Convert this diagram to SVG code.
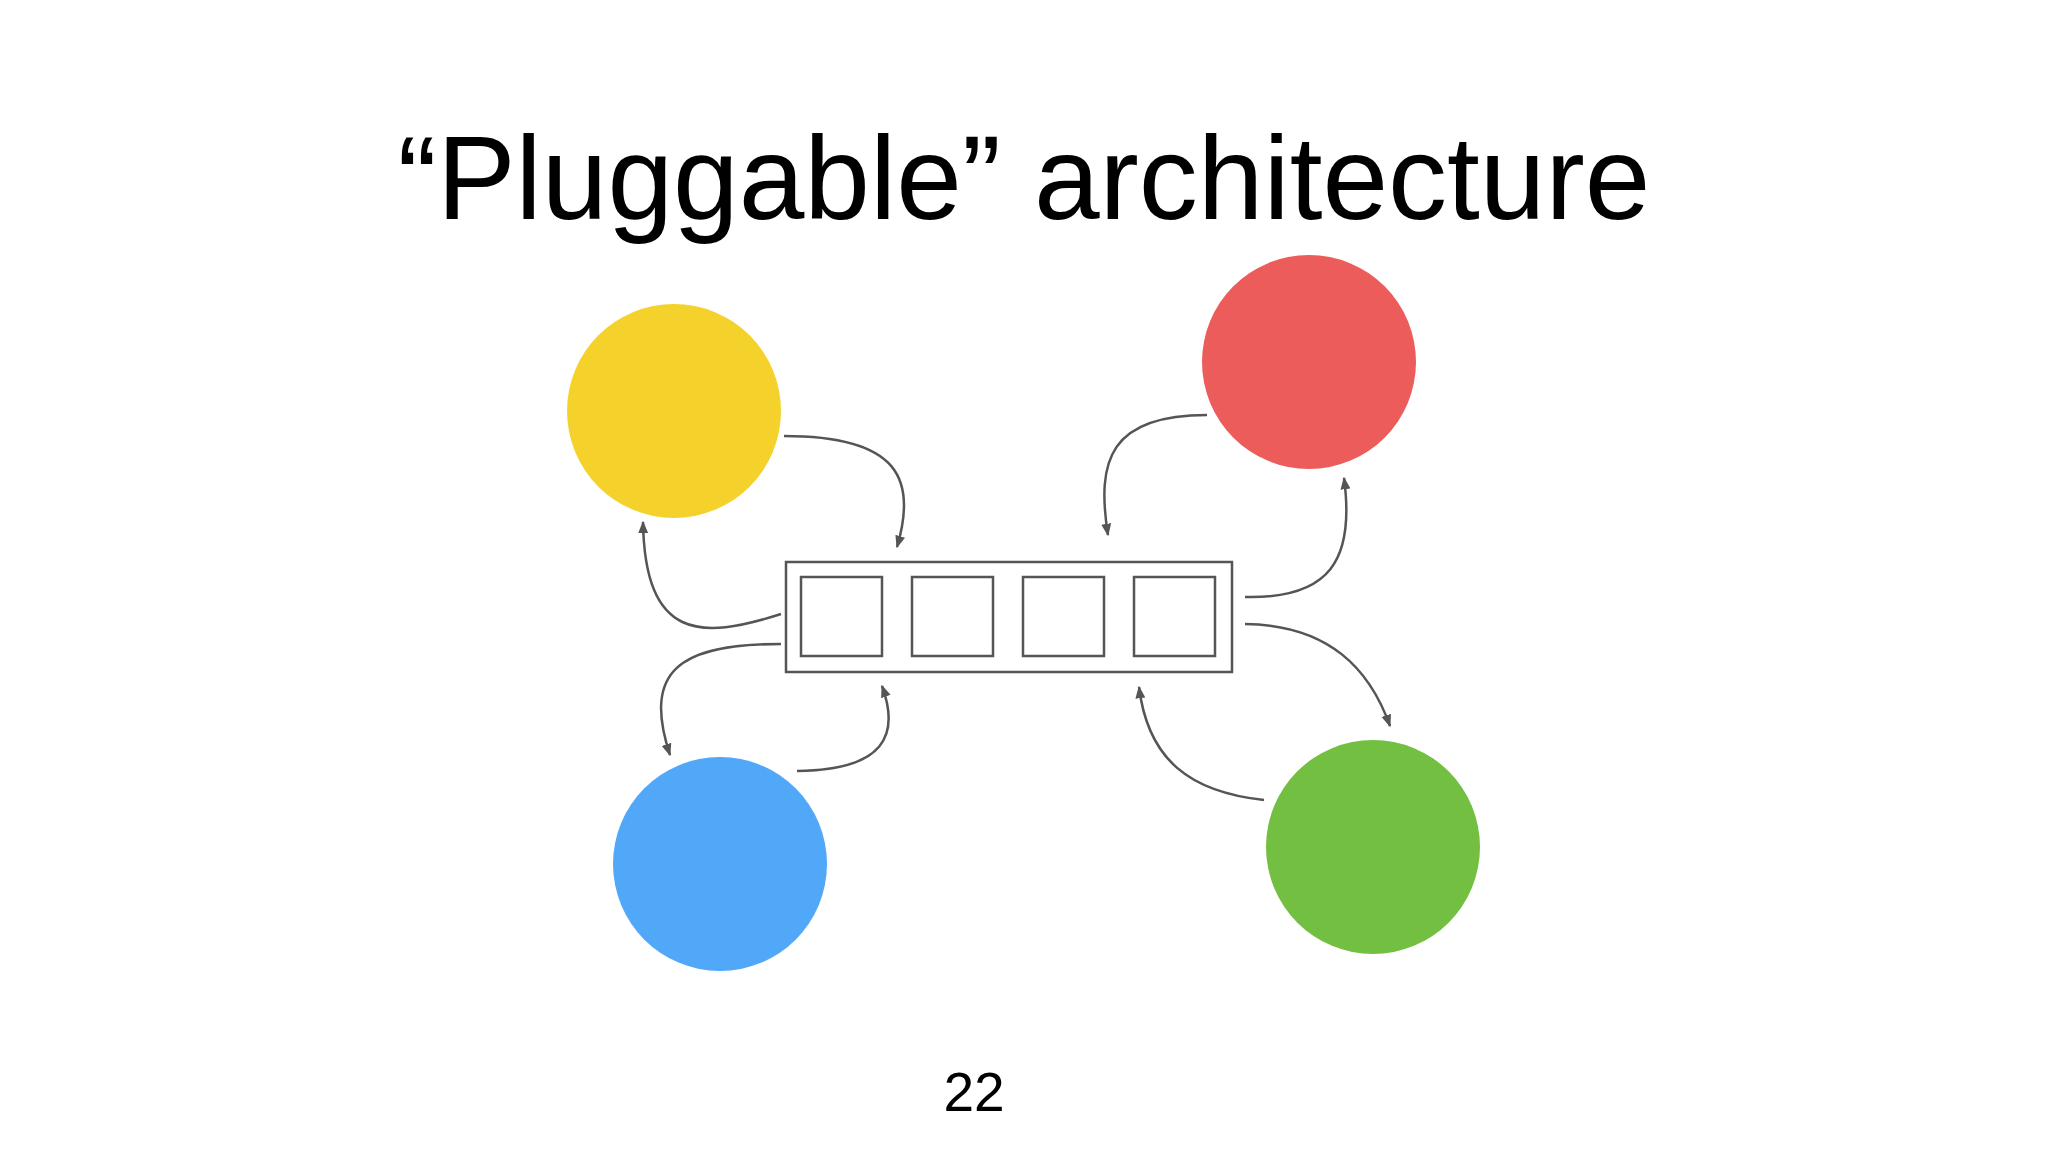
<svg xmlns="http://www.w3.org/2000/svg" width="2048" height="1152" viewBox="0 0 2048 1152">
<defs>
<marker id="ah" viewBox="0 0 10 10" refX="9" refY="5" markerWidth="5" markerHeight="5" orient="auto"><path d="M0,1 L10,5 L0,9 z" fill="#555"/></marker>
<style>.c{fill:none;stroke:#555;stroke-width:2.5;marker-end:url(#ah)}.b{fill:#fff;stroke:#555;stroke-width:2.5}text{font-family:"Liberation Sans",Arial,sans-serif;fill:#000}</style>
</defs>
<rect width="2048" height="1152" fill="#fff"/>
<text x="1024" y="219" font-size="118" text-anchor="middle">“Pluggable” architecture</text>
<g id="yellow"><circle cx="674" cy="411" r="107" fill="#F4D22B"/></g>
<g id="red"><circle cx="1309" cy="362" r="107" fill="#EB5C5A"/></g>
<g id="blue"><circle cx="720" cy="864" r="107" fill="#51A7F8"/></g>
<g id="green"><circle cx="1373" cy="847" r="107" fill="#73BF41"/></g>
<g id="plugin">
<rect class="b" x="786" y="562" width="446" height="110"/>
<rect class="b" x="801" y="577" width="81" height="79"/>
<rect class="b" x="912" y="577" width="81" height="79"/>
<rect class="b" x="1023" y="577" width="81" height="79"/>
<rect class="b" x="1134" y="577" width="81" height="79"/>
</g>
<g id="connectors">
<path class="c" d="M784,436 C900,436 917,480 897,547"/>
<path class="c" d="M781,614 C700,640 645,640 643,522"/>
<path class="c" d="M1207,415 C1110,415 1096,460 1108,535"/>
<path class="c" d="M1245,597 C1330,599 1355,560 1344,478"/>
<path class="c" d="M781,644 C680,644 642,670 670,755"/>
<path class="c" d="M797,771 C885,770 900,735 882,686"/>
<path class="c" d="M1245,624 C1330,625 1370,670 1390,726"/>
<path class="c" d="M1264,800 C1190,792 1148,760 1139,687"/>
</g>
<text x="974" y="1111" font-size="55" text-anchor="middle">22</text>
</svg>
